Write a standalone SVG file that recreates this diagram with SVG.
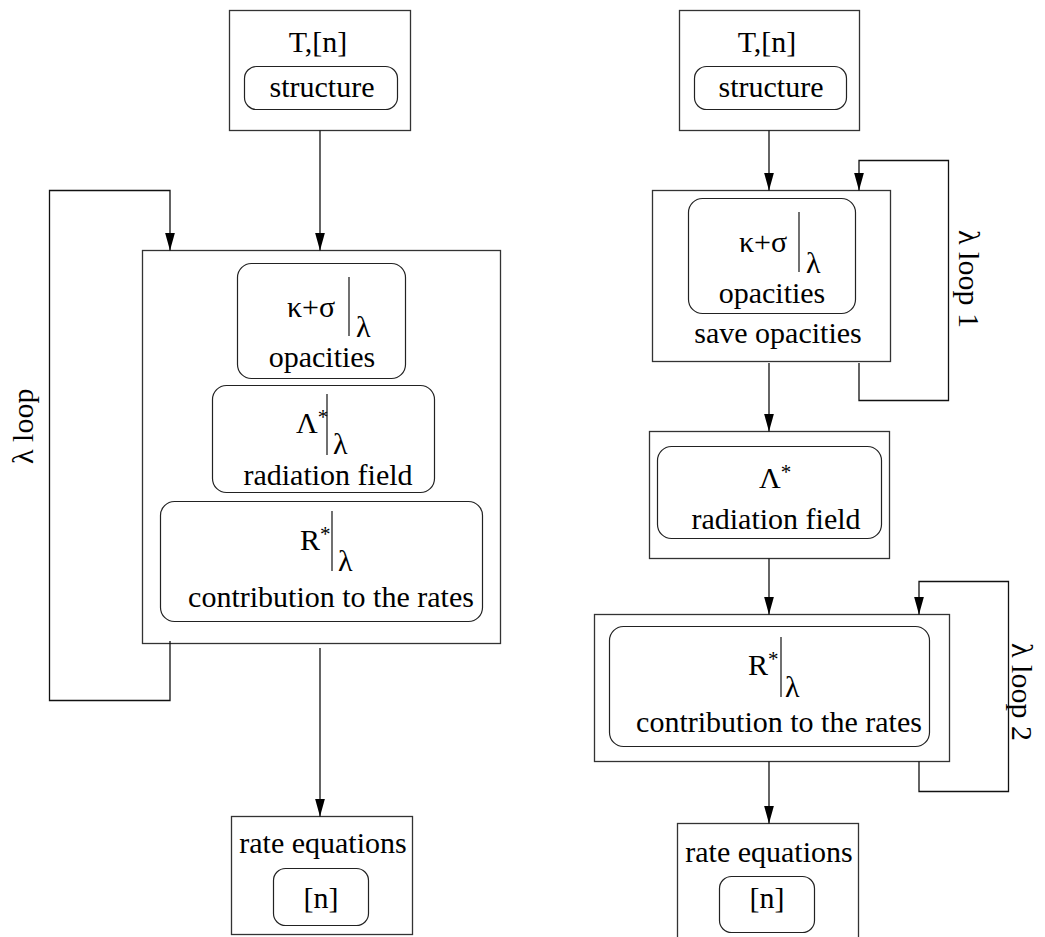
<svg xmlns="http://www.w3.org/2000/svg" width="1045" height="937" viewBox="0 0 1045 937">
<defs>
<marker id="ah" markerUnits="userSpaceOnUse" markerWidth="18" markerHeight="10" refX="18" refY="5" orient="auto"><path d="M0,0 L18,5 L0,10 z" fill="#000"/></marker>
<style>
.box{fill:#fff;stroke:#333;stroke-width:1.3}
.rbox{fill:none;stroke:#222;stroke-width:1.2}
.a{fill:none;stroke:#111;stroke-width:1.3;marker-end:url(#ah)}
.bar{stroke:#111;stroke-width:1.2}
text{font-family:'Liberation Serif','Times New Roman',serif;font-size:30px;fill:#000}
.sup{font-size:21px}
.m{text-anchor:middle}
</style>
</defs>
<rect width="1045" height="937" fill="#fff"/>

<g id="L_input">
<rect class="box" x="229.5" y="10.5" width="181" height="120"/>
<text class="m" x="318" y="52">T,[n]</text>
<rect class="rbox" x="244.5" y="66.5" width="153" height="43" rx="12"/>
<text class="m" x="322" y="97">structure</text>
</g>

<g id="L_loopbox">
<rect class="box" x="142.5" y="250.5" width="358" height="393"/>
</g>

<g id="L_opac">
<rect class="rbox" x="237.5" y="263.5" width="168" height="115" rx="14"/>
<text x="287" y="317">κ+σ</text>
<line class="bar" x1="349" y1="277" x2="349" y2="336"/>
<text x="356" y="337">λ</text>
<text class="m" x="322" y="367">opacities</text>
</g>

<g id="L_rad">
<rect class="rbox" x="212.5" y="385.5" width="222" height="107" rx="14"/>
<text x="296" y="433">Λ<tspan class="sup" dy="-9">*</tspan></text>
<line class="bar" x1="327" y1="394" x2="327" y2="455"/>
<text x="333" y="454">λ</text>
<text class="m" x="328" y="485">radiation field</text>
</g>

<g id="L_rates">
<rect class="rbox" x="160.5" y="501.5" width="322" height="120" rx="14"/>
<text x="300" y="550">R<tspan class="sup" dy="-9">*</tspan></text>
<line class="bar" x1="332" y1="511" x2="332" y2="571"/>
<text x="338" y="571">λ</text>
<text class="m" x="331" y="607">contribution to the rates</text>
</g>

<g id="L_rateeq">
<rect class="box" x="231.5" y="816.5" width="181" height="118"/>
<text class="m" x="323" y="853">rate equations</text>
<rect class="rbox" x="273.5" y="868.5" width="95" height="57" rx="12"/>
<text class="m" x="321" y="908">[n]</text>
</g>

<text id="L_looplabel" transform="translate(33,464) rotate(-90)">λ  loop</text>

<g id="R_input">
<rect class="box" x="679.5" y="10.5" width="180" height="120"/>
<text class="m" x="767" y="52">T,[n]</text>
<rect class="rbox" x="694.5" y="66.5" width="152" height="43" rx="12"/>
<text class="m" x="771" y="97">structure</text>
</g>

<g id="R_opac">
<rect class="box" x="652.5" y="190.5" width="238" height="171"/>
<rect class="rbox" x="688.5" y="198.5" width="167" height="115" rx="14"/>
<text x="739" y="252">κ+σ</text>
<line class="bar" x1="799" y1="212" x2="799" y2="272"/>
<text x="806" y="273">λ</text>
<text class="m" x="772" y="303">opacities</text>
<text class="m" x="778" y="343">save opacities</text>
</g>

<g id="R_rad">
<rect class="box" x="649.5" y="431.5" width="240" height="127"/>
<rect class="rbox" x="657.5" y="446.5" width="224" height="92" rx="14"/>
<text x="759" y="488">Λ<tspan class="sup" dy="-9">*</tspan></text>
<text class="m" x="776" y="529">radiation field</text>
</g>

<g id="R_rates">
<rect class="box" x="594.5" y="614.5" width="355" height="147"/>
<rect class="rbox" x="609.5" y="626.5" width="320" height="120" rx="14"/>
<text x="748" y="675">R<tspan class="sup" dy="-9">*</tspan></text>
<line class="bar" x1="781" y1="637" x2="781" y2="697"/>
<text x="785" y="697">λ</text>
<text class="m" x="779" y="732">contribution to the rates</text>
</g>

<g id="R_rateeq">
<rect class="box" x="677.5" y="823.5" width="181" height="130"/>
<text class="m" x="769" y="862">rate equations</text>
<rect class="rbox" x="719.5" y="876.5" width="95" height="56" rx="12"/>
<text class="m" x="767" y="908">[n]</text>
</g>

<text id="R_loop1label" transform="translate(959,230) rotate(90)">λ loop 1</text>
<text id="R_loop2label" transform="translate(1012,643) rotate(90)">λ loop 2</text>

<g id="connectors">
<line class="a" x1="320" y1="130.5" x2="320" y2="250.5"/>
<path class="a" d="M170,641 V700.5 H49.5 V190.5 H170 V250.5"/>
<line class="a" x1="320" y1="648" x2="320" y2="816.5"/>
<line class="a" x1="769" y1="130.5" x2="769" y2="190.5"/>
<path class="a" d="M859,363 V400.5 H948.5 V160.5 H859 V190.5"/>
<line class="a" x1="769" y1="363" x2="769" y2="431.5"/>
<line class="a" x1="769" y1="558.5" x2="769" y2="614.5"/>
<path class="a" d="M919,761.5 V791.5 H1008.5 V581.5 H919 V614.5"/>
<line class="a" x1="769" y1="761.5" x2="769" y2="823.5"/>
</g>
</svg>
